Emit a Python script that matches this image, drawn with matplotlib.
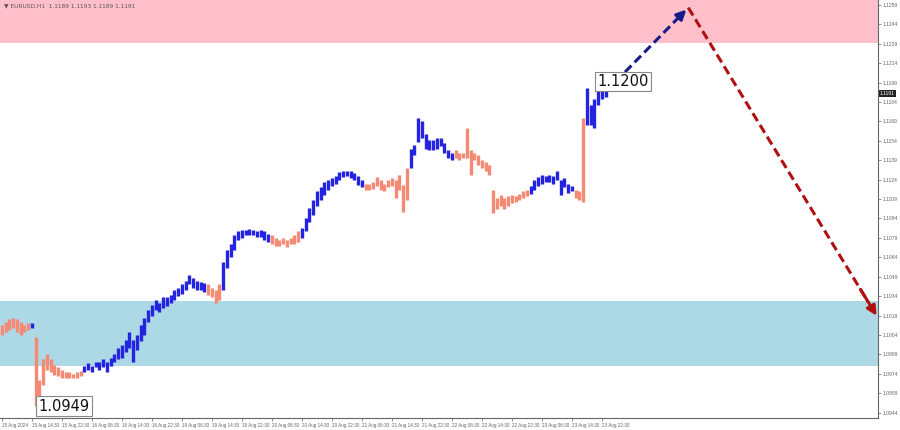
import matplotlib.pyplot as plt

# hourly bars, EURUSD H1 (high / low)
bar_hi = [1.1012, 1.1014, 1.1016, 1.1017, 1.1016, 1.1014, 1.1012, 1.1013, 1.1013, 1.1002,
          1.0969, 1.0985, 1.0989, 1.0985, 1.0981, 1.0979, 1.0977, 1.0975, 1.0975, 1.0974,
          1.0975, 1.0976, 1.0980, 1.0982, 1.0980, 1.0983, 1.0983, 1.0985, 1.0983, 1.0986,
          1.0989, 1.0994, 1.0996, 1.1000, 1.1006, 1.1000, 1.1004, 1.1012, 1.1017, 1.1023,
          1.1027, 1.1031, 1.1029, 1.1033, 1.1033, 1.1035, 1.1039, 1.1040, 1.1043, 1.1046,
          1.1050, 1.1048, 1.1046, 1.1045, 1.1044, 1.1043, 1.1040, 1.1039, 1.1043, 1.1060,
          1.1070, 1.1074, 1.1081, 1.1084, 1.1085, 1.1085, 1.1086, 1.1085, 1.1084, 1.1085,
          1.1084, 1.1082, 1.1081, 1.1079, 1.1077, 1.1079, 1.1077, 1.1079, 1.1081, 1.1084,
          1.1087, 1.1094, 1.1102, 1.1108, 1.1115, 1.1118, 1.1122, 1.1124, 1.1125, 1.1127,
          1.1130, 1.1131, 1.1131, 1.1131, 1.1129, 1.1127, 1.1124, 1.1121, 1.1121, 1.1122,
          1.1126, 1.1124, 1.1121, 1.1124, 1.1125, 1.1124, 1.1128, 1.1120, 1.1133, 1.1148,
          1.1151, 1.1172, 1.1169, 1.1159, 1.1155, 1.1155, 1.1156, 1.1156, 1.1152, 1.1147,
          1.1145, 1.1147, 1.1145, 1.1145, 1.1164, 1.1147, 1.1145, 1.1143, 1.1139, 1.1138,
          1.1135, 1.1116, 1.1110, 1.1112, 1.1110, 1.1111, 1.1112, 1.1111, 1.1113, 1.1115,
          1.1116, 1.1119, 1.1124, 1.1126, 1.1128, 1.1127, 1.1128, 1.1127, 1.1131, 1.1124,
          1.1125, 1.1121, 1.1119, 1.1116, 1.1115, 1.1172, 1.1195, 1.1182, 1.1186, 1.1200,
          1.1195, 1.1193]
bar_lo = [1.1004, 1.1006, 1.1008, 1.1009, 1.1006, 1.1004, 1.1006, 1.1008, 1.1009, 1.0949,
          1.0949, 1.0965, 1.0977, 1.0975, 1.0973, 1.0972, 1.0971, 1.0971, 1.0971, 1.0971,
          1.0971, 1.0972, 1.0975, 1.0977, 1.0975, 1.0979, 1.0977, 1.0979, 1.0975, 1.0980,
          1.0983, 1.0985, 1.0986, 1.0991, 1.0994, 1.0983, 1.0992, 1.0999, 1.1004, 1.1014,
          1.1019, 1.1023, 1.1022, 1.1025, 1.1026, 1.1029, 1.1031, 1.1034, 1.1036, 1.1039,
          1.1043, 1.1040, 1.1039, 1.1039, 1.1037, 1.1035, 1.1033, 1.1029, 1.1031, 1.1039,
          1.1056, 1.1064, 1.1070, 1.1077, 1.1079, 1.1081, 1.1081, 1.1081, 1.1080, 1.1080,
          1.1077, 1.1076, 1.1074, 1.1073, 1.1073, 1.1074, 1.1072, 1.1074, 1.1074, 1.1076,
          1.1079, 1.1084, 1.1091, 1.1097, 1.1104, 1.1108, 1.1112, 1.1116, 1.1119, 1.1121,
          1.1124, 1.1126, 1.1127, 1.1125, 1.1124, 1.1120, 1.1118, 1.1116, 1.1116, 1.1117,
          1.1119, 1.1116, 1.1115, 1.1118, 1.1119, 1.1110, 1.1116, 1.1099, 1.1108, 1.1133,
          1.1143, 1.1153, 1.1156, 1.1148, 1.1147, 1.1147, 1.1148, 1.1150, 1.1145, 1.1141,
          1.1139, 1.1141, 1.1139, 1.1141, 1.1141, 1.1128, 1.1139, 1.1135, 1.1133, 1.1131,
          1.1128, 1.1098, 1.1101, 1.1104, 1.1101, 1.1104, 1.1106, 1.1107, 1.1108, 1.1110,
          1.1111, 1.1113, 1.1116, 1.1119, 1.1121, 1.1122, 1.1122, 1.1121, 1.1124, 1.1112,
          1.1118, 1.1114, 1.1115, 1.1110, 1.1108, 1.1107, 1.1166, 1.1166, 1.1164, 1.1182,
          1.1186, 1.1188]

# wave segments: first bar index of each segment and its direction
wave_start = [0, 8, 9, 22, 55, 59, 72, 80, 97, 109, 121, 141, 153, 156]
wave_up = [False, True, False, True, False, True, False, True, False, True, False, True, False, True]

# time labels, one every 8 bars
time_labels = ['15 Aug 2024', '15 Aug 14:30', '15 Aug 22:30', '16 Aug 06:30', '16 Aug 14:30',
               '16 Aug 22:30', '19 Aug 06:30', '19 Aug 14:30', '19 Aug 22:30', '20 Aug 06:30',
               '20 Aug 14:30', '20 Aug 22:30', '21 Aug 06:30', '21 Aug 14:30', '21 Aug 22:30',
               '22 Aug 06:30', '22 Aug 14:30', '22 Aug 22:30', '23 Aug 06:30', '23 Aug 14:30',
               '23 Aug 22:30']
price_ticks = [1.0944, 1.0959, 1.0974, 1.0989, 1.1004, 1.1019, 1.1034, 1.1049, 1.1064, 1.1079,
               1.1094, 1.1109, 1.1124, 1.1139, 1.1154, 1.1169, 1.1184, 1.1199, 1.1214, 1.1229,
               1.1244, 1.1259]

# zones
resist_zone = (1.1230, 1.1270)
support_zone = (1.0980, 1.1030)

# forecast path
fc_x = [161, 183, 233.6]
fc_y = [1.1192, 1.1257, 1.1017]

last_price = 1.1191

UP = '#2323e0'
DOWN = '#f58a74'
TICK_FONT = ['Liberation Sans', 'DejaVu Sans']

fig = plt.figure(figsize=(9, 4.3), dpi=100)
fig.patch.set_facecolor('white')
ax = fig.add_axes([0.0, 0.028, 0.9756, 0.972])

ax.set_xlim(-0.5, 233.6)
ax.set_ylim(1.09398, 1.12629)

ax.axhspan(*resist_zone, color='#ffc0cb', zorder=0, lw=0)
ax.axhspan(*support_zone, color='#add8e6', zorder=0, lw=0)

bounds = wave_start + [len(bar_hi)]
for k in range(len(wave_start)):
    s, e = bounds[k], bounds[k + 1]
    col = UP if wave_up[k] else DOWN
    ax.vlines(list(range(s, e)), bar_lo[s:e], bar_hi[s:e], color=col, lw=2.4, zorder=3)

# forecast arrows
for (x0, y0, x1, y1, col) in [(fc_x[0], fc_y[0], fc_x[1], fc_y[1], '#1a1a8a'),
                              (fc_x[1], fc_y[1], fc_x[2], fc_y[2], '#b01010')]:
    ax.plot([x0, x0 + (x1 - x0) * 0.95], [y0, y0 + (y1 - y0) * 0.95],
            color=col, lw=2.2, ls=(0, (3, 1.5)), zorder=5, clip_on=False)
    ax.annotate('', xy=(x1, y1), xytext=(x0 + (x1 - x0) * 0.9, y0 + (y1 - y0) * 0.9),
                arrowprops=dict(arrowstyle='-|>', color=col, lw=2.2, mutation_scale=14),
                zorder=6, annotation_clip=False)

# price labels
box = dict(boxstyle='square,pad=0.15', fc='white', ec='#888888', lw=0.8)
ax.text(159 - 0.2, 1.1200, '1.1200', fontsize=10.5, ha='left', va='center', color='#111111',
        bbox=box, zorder=7)
ax.text(9.8, 1.0949, '1.0949', fontsize=10.5, ha='left', va='center', color='#111111',
        bbox=box, zorder=7)

# axes styling
for sp in ['top', 'left']:
    ax.spines[sp].set_visible(False)
for sp in ['right', 'bottom']:
    ax.spines[sp].set_color('#666666')
    ax.spines[sp].set_linewidth(0.8)

ax.yaxis.tick_right()
ax.set_yticks(price_ticks)
ax.set_yticklabels([f'{p:.4f}' for p in price_ticks], family=TICK_FONT)
ax.tick_params(axis='y', labelsize=3.6, colors='#666666', length=2, width=0.5, pad=1.5)

ax.set_xticks([8 * i for i in range(len(time_labels))])
ax.set_xticklabels(time_labels, ha='left', family=TICK_FONT)
ax.tick_params(axis='x', labelsize=3.3, colors='#666666', length=2, width=0.5, pad=1.5)

ax.text(1.002, last_price, f'{last_price:.4f}', transform=ax.get_yaxis_transform(),
        fontsize=3.6, color='white', ha='left', va='center', family=TICK_FONT,
        bbox=dict(boxstyle='square,pad=0.2', fc='#222222', ec='none'), clip_on=False)

ax.text(0.004, 0.992, '\u25bc EURUSD,H1  1.1189 1.1193 1.1189 1.1191', transform=ax.transAxes,
        fontsize=4.2, color='#555555', ha='left', va='top')

plt.savefig('out.png', dpi=100, facecolor='white')
